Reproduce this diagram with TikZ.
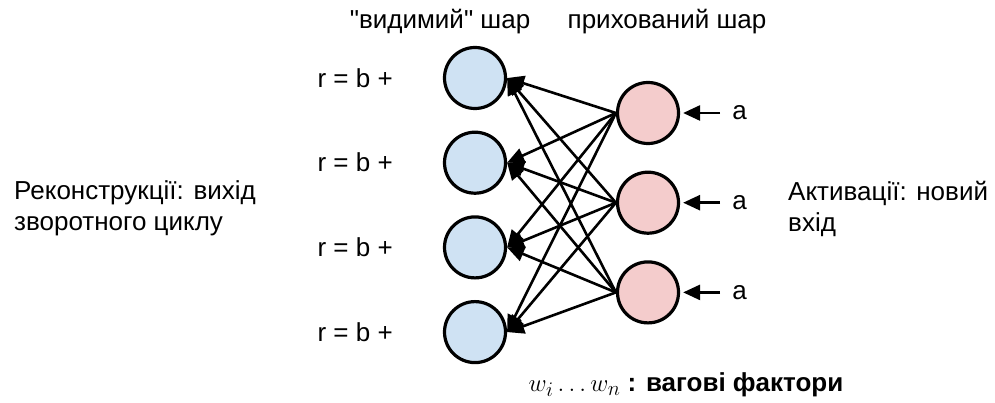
\documentclass[tikz,border=0pt]{standalone}
\usepackage{fontspec}
\setmainfont{Liberation Sans}[Ligatures=TeXOff]
\usetikzlibrary{positioning, arrows.meta}

\definecolor{visblue}{RGB}{207,226,243}
\definecolor{hidpink}{RGB}{244,204,204}

\begin{document}
\begin{tikzpicture}[
    x=1pt, y=-1pt,
    unit/.style={circle, draw, line width=3.2pt, minimum size=61pt, inner sep=0pt},
    txt/.style={font=\fontsize{26}{31}\selectfont, inner sep=0pt},
    arrow/.style={-{Triangle[length=17pt, width=15pt]}, line width=2.6pt},
]
\useasboundingbox (0,0) rectangle (995,403);

%% NODES
    % visible layer
    \node[unit, fill=visblue] at (475,78) (vis_1) {};
    \node[unit, fill=visblue, below=20.5pt of vis_1] (vis_2) {};
    \node[unit, fill=visblue, below=20.5pt of vis_2] (vis_3) {};
    \node[unit, fill=visblue, below=20.5pt of vis_3] (vis_4) {};
    \node[txt] at (440,22) (vis_title) {"видимий" шар};

    % reconstructions r = b + ...
    \node[txt, left=50pt of vis_1] (rec_1) {r = b +};
    \node[txt, left=50pt of vis_2] (rec_2) {r = b +};
    \node[txt, left=50pt of vis_3] (rec_3) {r = b +};
    \node[txt, left=50pt of vis_4] (rec_4) {r = b +};

    % hidden layer
    \node[unit, fill=hidpink] at (648,113) (hid_1) {};
    \node[unit, fill=hidpink, below=25.5pt of hid_1] (hid_2) {};
    \node[unit, fill=hidpink, below=25.5pt of hid_2] (hid_3) {};
    \node[txt] at (667,22) (hid_title) {прихований шар};

    % inputs a
    \node[txt, right=52pt of hid_1] (in_1) {a};
    \node[txt, right=52pt of hid_2] (in_2) {a};
    \node[txt, right=52pt of hid_3] (in_3) {a};

    % side notes
    \node[txt, align=left, anchor=west] at (14,208) (rec_note) {Реконструкції: вихід\\зворотного циклу};
    \node[txt, align=left, anchor=west] at (788,209) (act_note) {Активації: новий\\вхід};
    \node[txt] at (686,385) (weights) {{\fontsize{30}{31}\selectfont$w_i \dots w_n$}\textbf{ : вагові фактори}};

%% CONNECTIONS
    % a -> hidden
    \draw[arrow, shorten <=12pt, shorten >=3pt] (in_1) -- (hid_1);
    \draw[arrow, shorten <=12pt, shorten >=3pt] (in_2) -- (hid_2);
    \draw[arrow, shorten <=12pt, shorten >=3pt] (in_3) -- (hid_3);

    % hidden 1 -> visible
    \draw[arrow] (hid_1.west) -- (vis_1.east);
    \draw[arrow] (hid_1.west) -- (vis_2.east);
    \draw[arrow] (hid_1.west) -- (vis_3.east);
    \draw[arrow] (hid_1.west) -- (vis_4.east);

    % hidden 2 -> visible
    \draw[arrow] (hid_2.west) -- (vis_1.east);
    \draw[arrow] (hid_2.west) -- (vis_2.east);
    \draw[arrow] (hid_2.west) -- (vis_3.east);
    \draw[arrow] (hid_2.west) -- (vis_4.east);

    % hidden 3 -> visible
    \draw[arrow] (hid_3.west) -- (vis_1.east);
    \draw[arrow] (hid_3.west) -- (vis_2.east);
    \draw[arrow] (hid_3.west) -- (vis_3.east);
    \draw[arrow] (hid_3.west) -- (vis_4.east);

\end{tikzpicture}
\end{document}
